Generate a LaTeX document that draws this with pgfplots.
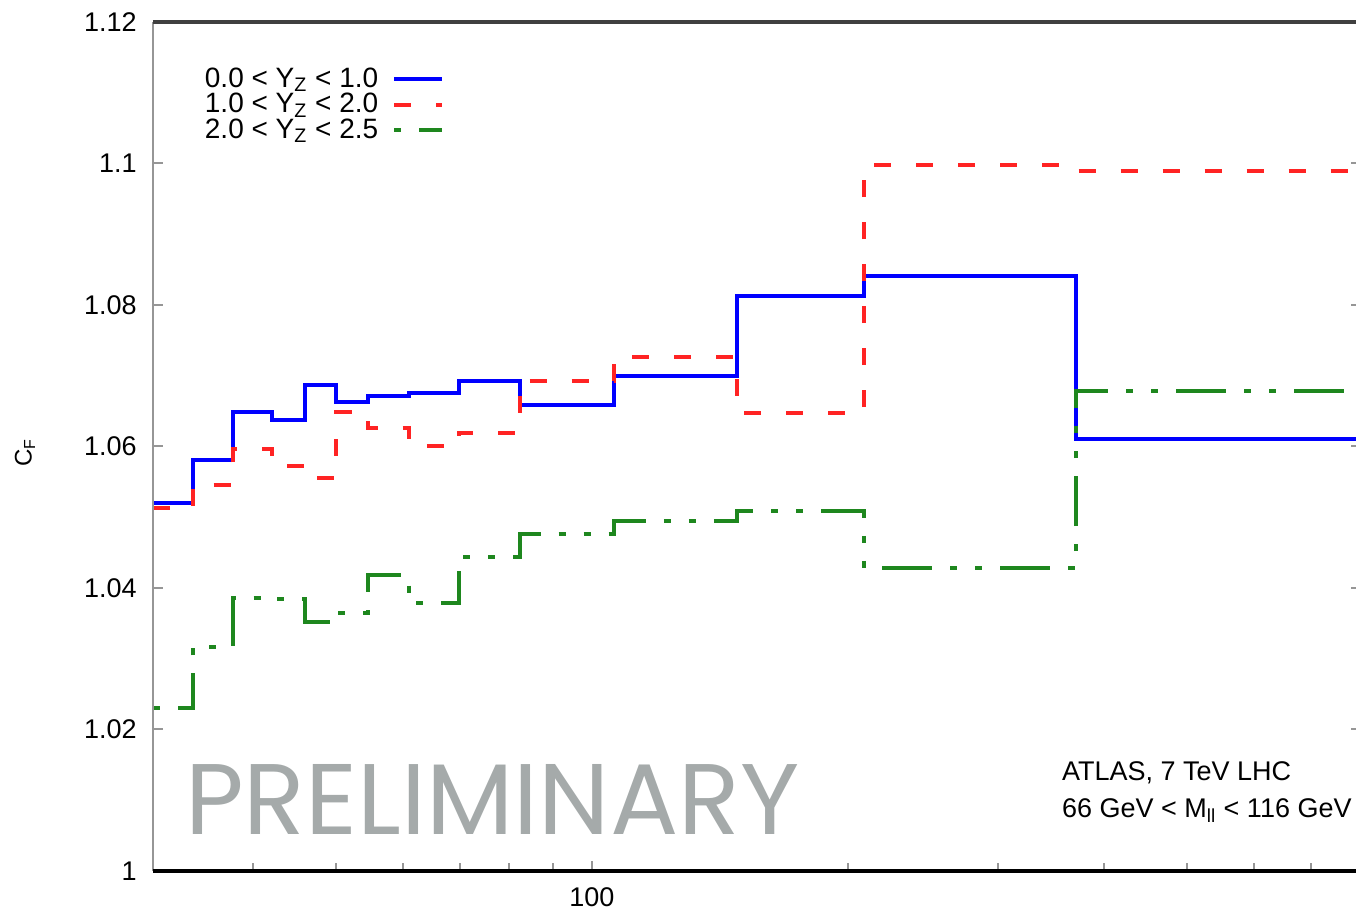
\documentclass[border=0pt]{standalone}
\usepackage{pgfplots}
\pgfplotsset{compat=1.18}
\usepackage{fontspec}
\setmainfont{Liberation Sans}
\newfontfamily\stampfont{Poppins}

\definecolor{cfblue}{RGB}{0,0,255}
\definecolor{cfred}{RGB}{255,35,35}
\definecolor{cfgreen}{RGB}{30,135,30}
\definecolor{stampgray}{RGB}{165,170,170}
\definecolor{tickgray}{RGB}{150,150,150}

\begin{document}
\begin{tikzpicture}
\begin{axis}[
  name=ax,
  scale only axis,
  width=603.75pt, height=424.5pt,
  xmode=log,
  xmin=30.5, xmax=800,
  ymin=1, ymax=1.12,
  clip mode=individual,
  axis line style={draw=none},
  tick align=inside,
  xtick={100}, xticklabels={100},
  minor xtick={40,50,60,70,80,90,200,300,400,500,600,700},
  xtick pos=left,
  ytick={1,1.02,1.04,1.06,1.08,1.1,1.12},
  yticklabels={1,1.02,1.04,1.06,1.08,1.1,1.12},
  ytick pos=both,
  major tick length=5pt, minor tick length=4pt,
  every tick/.style={tickgray, line width=1pt},
  /pgf/number format/assume math mode=true,
  ticklabel style={font=\fontsize{13.5}{15}\selectfont, inner sep=0pt},
  yticklabel style={xshift=-8pt},
  xticklabel style={yshift=-8pt},
  legend style={draw=none, fill=none, at={(rel axis cs:0.041,0.949)}, anchor=north west,
    font=\fontsize{14}{15}\selectfont, row sep=-0.5pt, inner sep=0pt,
    nodes={inner sep=1pt}, column sep=6pt},
  legend cell align=left,
  legend plot pos=right,
  legend image code/.code={\draw[#1] (0pt,0pt) -- (24pt,0pt);},
]
% |Y_Z| < 1.0
\addplot[const plot, cfblue, line width=2pt] coordinates {
  (30.5,1.0520) (34.0,1.0581) (37.9,1.0649) (42.1,1.0638) (46.0,1.0687)
  (50.1,1.0663) (54.5,1.0671) (60.9,1.0675) (69.8,1.0692) (82.3,1.0659)
  (106.1,1.0700) (148.0,1.0812) (209.0,1.0841) (370.5,1.0610) (800,1.0610)
};
\addlegendentry{0.0 < Y\textsubscript{Z} < 1.0}
% 1.0 < |Y_Z| < 2.0
\addplot[const plot, cfred, line width=2pt, dash pattern=on 8.5pt off 12.5pt] coordinates {
  (30.5,1.0513) (34.0,1.0546) (37.9,1.0596) (42.1,1.0572) (46.0,1.0555)
  (50.1,1.0649) (54.5,1.0626) (60.9,1.0601) (69.8,1.0619) (82.3,1.0693)
  (106.1,1.0726) (148.0,1.0647) (209.0,1.0998) (370.5,1.0990) (800,1.0990)
};
\addlegendentry{1.0 < Y\textsubscript{Z} < 2.0}
% 2.0 < |Y_Z| < 2.5
\addplot[const plot, cfgreen, line width=2pt,
  dash pattern=on 3.5pt off 9pt on 25pt off 9pt on 3.5pt off 9pt] coordinates {
  (30.5,1.0230) (34.0,1.0317) (37.9,1.0386) (42.1,1.0384) (46.0,1.0352)
  (50.1,1.0365) (54.5,1.0418) (60.9,1.0379) (69.8,1.0444) (82.3,1.0476)
  (106.1,1.0494) (148.0,1.0509) (209.0,1.0428) (370.5,1.0679) (800,1.0679)
};
\addlegendentry{2.0 < Y\textsubscript{Z} < 2.5}

\node[anchor=base west, font=\fontsize{13.5}{16}\selectfont] at (axis cs:350,1.01286)
  {ATLAS, 7 TeV LHC};
\node[anchor=base west, font=\fontsize{13.5}{16}\selectfont] at (axis cs:350,1.00749)
  {66 GeV < M\textsubscript{ll} < 116 GeV};
\node[anchor=base west, inner sep=0pt, text=stampgray] at (axis cs:33.24,1.00509)
  {\resizebox{307pt}{35pt}{\stampfont PRELIMINARY}};
\end{axis}

% frame: thin grey left spine, heavy top and bottom spines
\draw[tickgray, line width=1pt] (ax.south west) -- (ax.north west);
\draw[black!75, line width=1.75pt] (ax.north west) -- (ax.north east);
\draw[black, line width=2.25pt] (ax.south west) -- (ax.south east);
\draw[tickgray, line width=1pt] (ax.south east) -- (ax.north east);

\node[rotate=90, font=\fontsize{12}{14}\selectfont] at ([xshift=-64pt,yshift=-3pt]ax.west)
  {C\textsubscript{F}};

\pgfresetboundingbox
\path[use as bounding box] ([shift={(-76.5pt,-21pt)}]ax.south west)
  rectangle ([shift={(601.5pt,435.5pt)}]ax.south west);
\end{tikzpicture}
\end{document}
